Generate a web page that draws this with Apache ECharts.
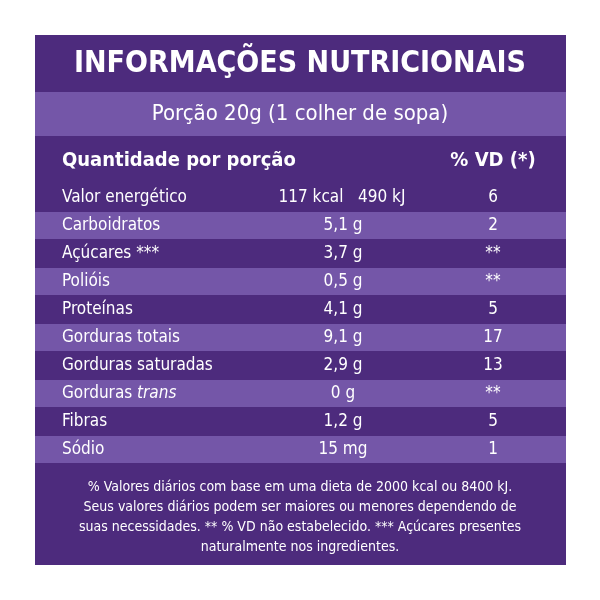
<!DOCTYPE html>
<html><head><meta charset="utf-8">
<script src="https://cdn.jsdelivr.net/npm/echarts@6/dist/echarts.min.js"></script>
<style>html,body{margin:0;padding:0;background:#fff}#c{width:600px;height:600px}</style>
</head><body><div id="c"></div>
<script>
const title = 'INFORMAÇÕES NUTRICIONAIS';
const portion = 'Porção 20g (1 colher de sopa)';
const headers = ['Quantidade por porção', '% VD (*)'];
const nutrients = ['Valor energético','Carboidratos','Açúcares ***','Polióis','Proteínas','Gorduras totais','Gorduras saturadas','Gorduras trans','Fibras','Sódio'];
const amounts = ['117 kcal   490 kJ','5,1 g','3,7 g','0,5 g','4,1 g','9,1 g','2,9 g','0 g','1,2 g','15 mg'];
const vd = ['6','2','**','**','5','17','13','**','5','1'];
const footnote = ['% Valores diários com base em uma dieta de 2000 kcal ou 8400 kJ.','Seus valores diários podem ser maiores ou menores dependendo de','suas necessidades. ** % VD não estabelecido. *** Açúcares presentes','naturalmente nos ingredientes.'];

const DARK='#4d2b7d', LIGHT='#7456a8';
const F='"DejaVu Sans Condensed","DejaVu Sans",sans-serif';
const g=[];
g.push({type:'rect',shape:{x:35,y:35,width:531,height:530},style:{fill:DARK}});
g.push({type:'rect',shape:{x:35,y:92,width:531,height:44},style:{fill:LIGHT}});
g.push({type:'text',x:300,y:64,style:{text:title,fill:'#fff',font:'bold 30px '+F,align:'center',verticalAlign:'middle'}});
g.push({type:'text',x:300,y:114,style:{text:portion,fill:'#fff',font:'22px '+F,align:'center',verticalAlign:'middle'}});
g.push({type:'text',x:62,y:161,style:{text:headers[0],fill:'#fff',font:'bold 20px '+F,verticalAlign:'middle'}});
g.push({type:'text',x:493,y:161,style:{text:headers[1],fill:'#fff',font:'bold 20px '+F,align:'center',verticalAlign:'middle'}});
const y0=184, rh=28;
nutrients.forEach((n,i)=>{
  const y=y0+i*rh;
  if(i%2===1) g.push({type:'rect',shape:{x:35,y:y,width:531,height:rh-1},style:{fill:LIGHT}});
  const cy=y+rh/2;
  if(n==='Gorduras trans'){
    g.push({type:'text',x:62,y:cy,style:{text:'{a|Gorduras }{b|trans}',fill:'#fff',font:'17px '+F,verticalAlign:'middle',rich:{a:{fill:'#fff',font:'17px '+F},b:{fill:'#fff',font:'italic 17px '+F}}}});
  } else g.push({type:'text',x:62,y:cy,style:{text:n,fill:'#fff',font:'17px '+F,verticalAlign:'middle'}});
  g.push({type:'text',x:i===0?342:343,y:cy,style:{text:amounts[i],fill:'#fff',font:'17px '+F,align:'center',verticalAlign:'middle'}});
  g.push({type:'text',x:493,y:cy,style:{text:vd[i],fill:'#fff',font:'17px '+F,align:'center',verticalAlign:'middle'}});
});
footnote.forEach((t,i)=>g.push({type:'text',x:300,y:487+i*20,style:{text:t,fill:'#fff',font:'14px '+F,align:'center',verticalAlign:'middle'}}));
const chart=echarts.init(document.getElementById('c'));
chart.setOption({animation:false,graphic:g});
</script></body></html>
